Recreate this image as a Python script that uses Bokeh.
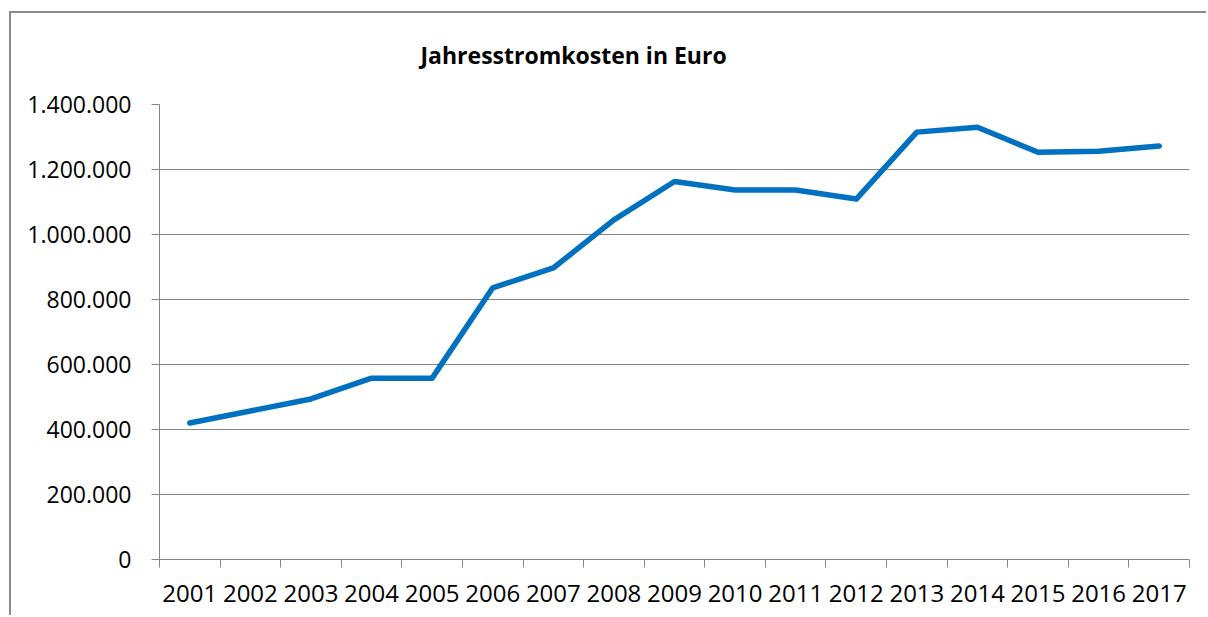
from bokeh.plotting import figure
from bokeh.models import FixedTicker, Title
from bokeh.embed import file_html
from bokeh.resources import INLINE

years = [2001, 2002, 2003, 2004, 2005, 2006, 2007, 2008, 2009,
         2010, 2011, 2012, 2013, 2014, 2015, 2016, 2017]
costs = [420000, 457000, 494000, 558000, 558000, 836000, 897000, 1045000,
         1163000, 1137000, 1137000, 1109000, 1315000, 1330000, 1253000,
         1256000, 1272000]
y_ticks = [0, 200000, 400000, 600000, 800000, 1000000, 1200000, 1400000]
y_tick_labels = ["0", "200.000", "400.000", "600.000", "800.000",
                 "1.000.000", "1.200.000", "1.400.000"]
title_text = "Jahresstromkosten in Euro"

FONT = "Open Sans"
GRAY = "#868686"

p = figure(width=1206, height=615, output_backend="svg", toolbar_location=None,
           x_range=(years[0] - 0.5, years[-1] + 0.5), y_range=(0, 1400000),
           min_border_left=159, min_border_right=17, min_border_top=104,
           min_border_bottom=56)
# chart-area frame (left and top edges), drawn behind the transparent canvas
p.styles = {
    "background": ("linear-gradient(#8c8c8c, #8c8c8c) 9px 11px / 2px 100% no-repeat, "
                   "linear-gradient(#8c8c8c, #8c8c8c) 9px 11px / 100% 2px no-repeat, "
                   "white"),
}
p.outline_line_color = None
p.background_fill_color = "white"
p.border_fill_color = None

p.line(years, costs, line_color="#0070C0", line_width=5.5,
       line_cap="round", line_join="round")

# y axis
p.yaxis.ticker = FixedTicker(ticks=y_ticks)
p.yaxis.major_label_overrides = {t: l for t, l in zip(y_ticks, y_tick_labels)}
p.yaxis.axis_line_color = GRAY
p.yaxis.axis_line_width = 1
p.yaxis.major_tick_line_color = GRAY
p.yaxis.major_tick_out = 8
p.yaxis.major_tick_in = 0
p.yaxis.minor_tick_line_color = None
p.yaxis.major_label_standoff = 20
p.yaxis.major_label_text_font = FONT
p.yaxis.major_label_text_font_size = "23px"
p.yaxis.major_label_text_color = "black"

# x axis: labels at centres, ticks between categories
bounds = [y - 0.5 for y in years] + [years[-1] + 0.5]
p.xaxis.ticker = FixedTicker(ticks=years, minor_ticks=bounds)
p.xaxis.axis_line_color = GRAY
p.xaxis.major_tick_line_color = None
p.xaxis.minor_tick_line_color = GRAY
p.xaxis.minor_tick_out = 8
p.xaxis.minor_tick_in = 0
p.xaxis.major_label_standoff = 17
p.xaxis.major_label_text_font = FONT
p.xaxis.major_label_text_font_size = "24px"
p.xaxis.major_label_text_color = "black"

p.xgrid.grid_line_color = None
p.ygrid.grid_line_color = GRAY
p.ygrid.grid_line_width = 1

p.title = Title(text=title_text, align="left", offset=261,
                text_font=FONT, text_font_size="23px", text_font_style="bold",
                text_color="black", standoff=68)

open("out.html", "w").write(file_html(p, INLINE))
